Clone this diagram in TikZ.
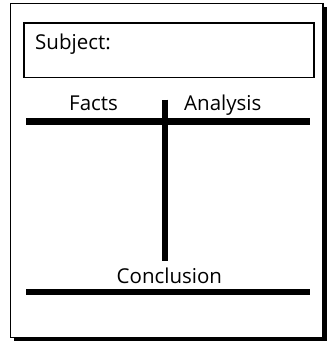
\documentclass[tikz,border=0pt]{standalone}
\usepackage{fontspec}
\setmainfont{Open Sans}
\begin{document}
\begin{tikzpicture}[x=1pt,y=-1pt,
  label/.style={inner sep=0pt, anchor=base west, font=\fontsize{20.5}{24}\selectfont},
  rule/.style={line width=6.5pt},
  frame/.style={line width=1.3pt}]
\useasboundingbox (0,0) rectangle (327,345);
% sheet with drop shadow
\fill[black] (14,7) rectangle (326.5,341);
\fill[white, draw=black, frame] (10.5,3.5) rectangle (323,337.5);
% subject field
\node[draw, line width=1.6pt, minimum width=290pt, minimum height=54pt, anchor=north west, inner sep=0pt] (subj) at (23,22.5) {};
\node[label] (subjtext) at (35,49) {Subject:};
% column headings
\node[label] (facts) at (69,110) {Facts};
\node[label] (analysis) at (184,110) {Analysis};
\node[label] (concl) at (116.5,283) {Conclusion};
% T-chart rules
\coordinate (tl) at (26,121.5);
\coordinate (tr) at (310,121.5);
\coordinate (vt) at (165,99.5);
\coordinate (vb) at (165,261);
\coordinate (bl) at (26,292);
\coordinate (br) at (310,292);
\draw[rule] (tl) -- (tr);
\draw[line width=6pt] (vt) -- (vb);
\draw[rule] (bl) -- (br);
\end{tikzpicture}
\end{document}
